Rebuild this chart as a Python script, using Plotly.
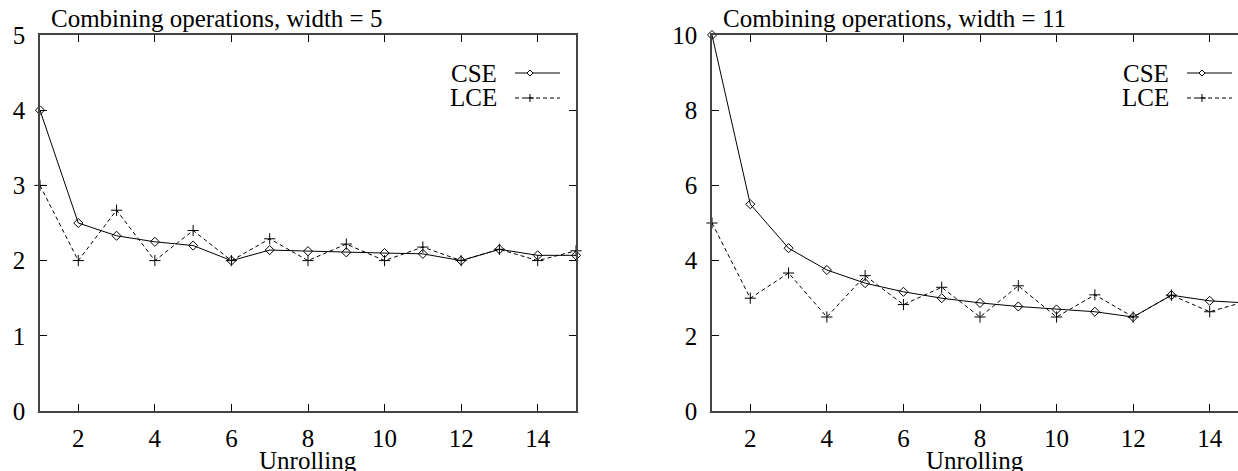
import plotly.graph_objects as go

# ---- data ----
unrolling = list(range(1, 16))
cse_w5 = [4.0, 2.5, 2.33, 2.25, 2.2, 2.0, 2.14, 2.125, 2.11, 2.1, 2.09, 2.0, 2.15, 2.07, 2.07]
lce_w5 = [3.0, 2.0, 2.67, 2.0, 2.4, 2.0, 2.29, 2.0, 2.22, 2.0, 2.18, 2.0, 2.15, 2.0, 2.13]
cse_w11 = [10.0, 5.5, 4.33, 3.75, 3.4, 3.17, 3.0, 2.875, 2.78, 2.7, 2.64, 2.5, 3.08, 2.93, 2.87]
lce_w11 = [5.0, 3.0, 3.67, 2.5, 3.6, 2.83, 3.29, 2.5, 3.33, 2.5, 3.09, 2.5, 3.08, 2.64, 2.93]
titles = ["Combining operations, width = 5", "Combining operations, width = 11"]
x_title = "Unrolling"
series_names = ["CSE", "LCE"]

W, H = 1238, 471
FONT = "Liberation Serif, Times New Roman, serif"
FS = 25
ML, MR, MT, MB = 0, 0, 35, 60
PLOT_H = H - MT - MB

# pixel layout of the two panels
left_px = (40, 576)
unit = (left_px[1] - left_px[0]) / 14.0
right_x0 = 712
right_hi = 1 + (W - right_x0) / unit

fig = go.Figure()

def add_panel(cse, lce, xa, ya):
    fig.add_trace(go.Scatter(x=unrolling, y=cse, mode="lines+markers", name=series_names[0],
                             line=dict(color="black", width=1),
                             marker=dict(symbol="diamond-open", size=7, color="black", line=dict(width=1)),
                             xaxis=xa, yaxis=ya, cliponaxis=False, showlegend=False))
    fig.add_trace(go.Scatter(x=unrolling, y=lce, mode="lines+markers", name=series_names[1],
                             line=dict(color="black", width=1, dash="4px,3px"),
                             marker=dict(symbol="cross-thin-open", size=8, color="black", line=dict(width=1, color="black")),
                             xaxis=xa, yaxis=ya, cliponaxis=False, showlegend=False))

add_panel(cse_w5, lce_w5, "x", "y")
add_panel(cse_w11, lce_w11, "x2", "y2")

axis_common = dict(showgrid=False, zeroline=False, ticks="inside", ticklen=7, tickwidth=1,
                   tickcolor="black", linecolor="#444", linewidth=1.5, showline=True,
                   tickfont=dict(family=FONT, size=FS, color="black"))

fig.update_layout(
    width=W, height=H,
    margin=dict(l=ML, r=MR, t=MT, b=MB),
    paper_bgcolor="white", plot_bgcolor="white",
    font=dict(family=FONT, size=FS, color="black"),
    xaxis=dict(domain=[left_px[0] / W, left_px[1] / W], range=[1, 15], tick0=0, dtick=2,
               mirror="ticks", anchor="y", ticklabelstandoff=4, **axis_common),
    yaxis=dict(range=[0, 5], dtick=1, mirror="ticks", anchor="x", ticklabelstandoff=8, **axis_common),
    xaxis2=dict(domain=[right_x0 / W, 1.0], range=[1, right_hi], tick0=0, dtick=2,
                mirror="ticks", anchor="y2", ticklabelstandoff=4, **axis_common),
    yaxis2=dict(range=[0, 10], dtick=2, mirror=False, anchor="x2", ticklabelstandoff=8, **axis_common),
)

def py(p):
    return (H - MB - p) / PLOT_H

# titles
for txt, x0 in zip(titles, [49, 721]):
    fig.add_annotation(text=txt, x=x0 / W, y=py(19), xref="paper", yref="paper",
                       xanchor="left", yanchor="middle", showarrow=False,
                       font=dict(family=FONT, size=FS, color="black"))

# x-axis titles
for xc in [(left_px[0] + left_px[1]) / 2, 975]:
    fig.add_annotation(text=x_title, x=xc / W, y=py(461), xref="paper", yref="paper",
                       xanchor="center", yanchor="middle", showarrow=False,
                       font=dict(family=FONT, size=FS, color="black"))

# manual legends (text left of key, gnuplot style)
for right_edge in [left_px[1], right_x0 + 14 * unit]:
    for i, (name, yp) in enumerate(zip(series_names, [73, 98])):
        fig.add_annotation(text=name, x=(right_edge - 77) / W, y=py(yp), xref="paper", yref="paper",
                           xanchor="right", yanchor="middle", showarrow=False,
                           font=dict(family=FONT, size=FS, color="black"))
        fig.add_shape(type="line", xref="paper", yref="paper",
                      x0=(right_edge - 61) / W, x1=min(right_edge - 16, W) / W, y0=py(yp), y1=py(yp),
                      line=dict(color="black", width=1, dash="solid" if i == 0 else "4px,3px"))
        mx = (right_edge - 46) / W
        if i == 0:
            fig.add_shape(type="path", xref="paper", yref="paper", xsizemode="pixel", ysizemode="pixel",
                          xanchor=mx, yanchor=py(yp), path="M -3,0 L 0,3 L 3,0 L 0,-3 Z",
                          fillcolor="white", line=dict(color="black", width=1))
        else:
            fig.add_shape(type="path", xref="paper", yref="paper", xsizemode="pixel", ysizemode="pixel",
                          xanchor=mx, yanchor=py(yp), path="M -4,0 L 4,0 M 0,-4 L 0,4",
                          line=dict(color="black", width=1))

fig.write_html("out.html", config={"displayModeBar": False},
               post_script="document.body.style.margin='0';document.body.style.overflow='hidden';")
